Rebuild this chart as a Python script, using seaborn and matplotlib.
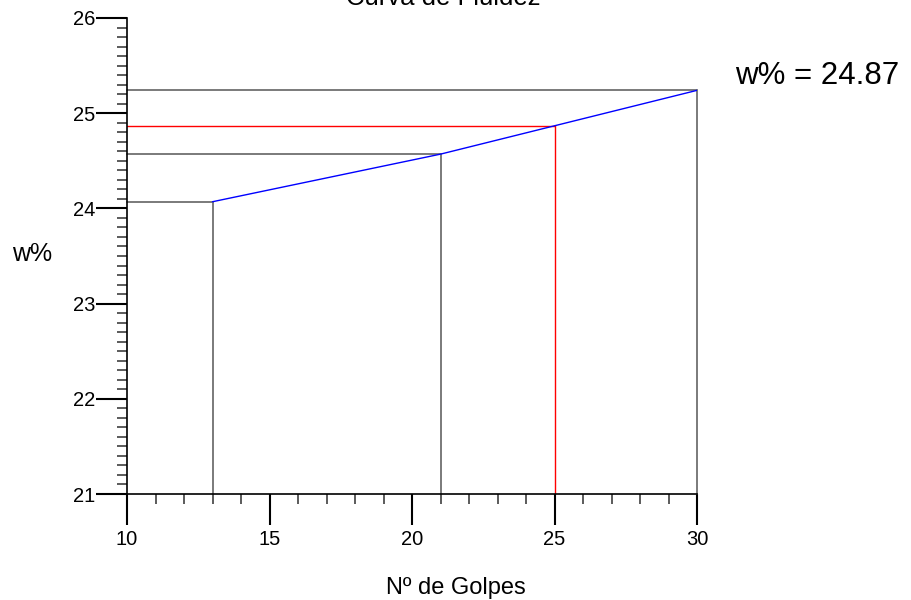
import matplotlib
matplotlib.use("Agg")
import matplotlib.pyplot as plt
import seaborn as sns
import pandas as pd
from matplotlib.ticker import MultipleLocator

# Liquid limit test: blow counts and moisture contents
golpes = [13, 21, 30]
humedad = [24.07, 24.57, 25.24]
golpes_ref = 25
w_ref = 24.87

x_ticks = [10, 15, 20, 25, 30]
y_ticks = [21, 22, 23, 24, 25, 26]

sns.set_theme(style="white")
plt.rcParams["font.family"] = ["Liberation Sans", "DejaVu Sans"]
plt.rcParams["text.color"] = "black"
plt.rcParams["xtick.color"] = "black"
plt.rcParams["ytick.color"] = "black"

fig = plt.figure(figsize=(9.11, 6.0), dpi=100)
ax = fig.add_axes([127 / 911, 106 / 600, 570 / 911, 476 / 600])

df = pd.DataFrame({"golpes": golpes, "w": humedad})

# guide lines from each point to both axes
for gx, wy in zip(golpes, humedad):
    ax.plot([x_ticks[0], gx], [wy, wy], color="#707070", lw=1.3, zorder=1,
            clip_on=False)
    ax.plot([gx, gx], [y_ticks[0], wy], color="#707070", lw=1.3, zorder=1,
            clip_on=False)

# reference reading at 25 blows
ax.plot([x_ticks[0], golpes_ref], [w_ref, w_ref], color="red", lw=1.0, zorder=2)
ax.plot([golpes_ref, golpes_ref], [y_ticks[0], w_ref], color="red", lw=1.0, zorder=2)

sns.lineplot(data=df, x="golpes", y="w", ax=ax, color="blue", lw=1.0, zorder=3)

ax.set_xlim(x_ticks[0], x_ticks[-1])
ax.set_ylim(y_ticks[0], y_ticks[-1])
ax.set_xticks(x_ticks)
ax.set_yticks(y_ticks)
ax.xaxis.set_minor_locator(MultipleLocator(1))
ax.yaxis.set_minor_locator(MultipleLocator(0.1))

for side in ["top", "right"]:
    ax.spines[side].set_visible(False)
for side in ["left", "bottom"]:
    ax.spines[side].set_color("black")
    ax.spines[side].set_linewidth(1.2)

ax.tick_params(axis="both", which="both", bottom=True, left=True,
               top=False, right=False)
ax.tick_params(axis="both", which="major", direction="out", length=22,
               width=1.5, color="black", labelcolor="black",
               labelsize=14.5, pad=1)
ax.tick_params(axis="both", which="minor", direction="out", length=7,
               width=1.2, color="#404040")
ax.tick_params(axis="x", which="major", pad=4)

ax.set_xlabel("")
ax.set_ylabel("")

fig.text(0.487, 1 - 5 / 600, "Curva de Fluidez", ha="center", va="baseline",
         fontsize=18.5)
fig.text(12 / 911, 1 - 254 / 600, "w%", ha="left", va="center", fontsize=18)
fig.text(0.5, 1 - 588 / 600, "Nº de Golpes", ha="center", va="center",
         fontsize=17)
fig.text(735 / 911, 1 - 76 / 600, f"w% = {w_ref:.2f}", ha="left", va="center",
         fontsize=22.5)

fig.savefig("out.png", dpi=100)
